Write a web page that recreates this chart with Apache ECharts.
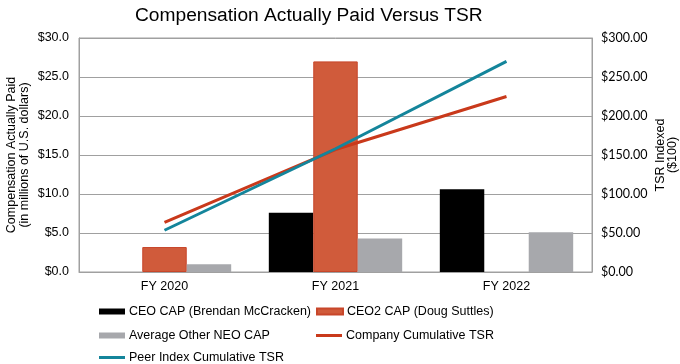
<!DOCTYPE html>
<html><head><meta charset="utf-8">
<script src="https://cdn.jsdelivr.net/npm/echarts@6/dist/echarts.min.js"></script>
<style>html,body{margin:0;padding:0;background:#fff}#c{width:680px;height:364px}</style>
</head><body><div id="c"></div>
<script>
const categories = ['FY 2020', 'FY 2021', 'FY 2022'];
const ceoCap = [null, 7.6, 10.6];
const ceo2Cap = [3.2, 27.0, null];
const neoCap = [1.0, 4.3, 5.1];
const companyTsr = [63.5, 157, 225];
const peerTsr = [53.5, 158, 270];
const leftTicks = [0, 5, 10, 15, 20, 25, 30];
const rightTicks = [0, 50, 100, 150, 200, 250, 300];

const names = ['CEO CAP (Brendan McCracken)', 'CEO2 CAP (Doug Suttles)', 'Average Other NEO CAP', 'Company Cumulative TSR', 'Peer Index Cumulative TSR'];
const colors = ['#000000', '#D05B3B', '#A7A8AC', '#C9391B', '#14859B'];
const font = 'Liberation Sans, Arial, sans-serif';

function leg(i, left, top, h) {
  return {
    data: [{name: names[i], icon: 'rect', itemStyle: {color: colors[i]}}],
    left: left, top: top, itemWidth: 26, itemHeight: h, itemGap: 0,
    padding: 0, selectedMode: false,
    textStyle: {fontFamily: font, fontSize: 12.5, color: '#000', padding: [0,0,0,-1]}
  };
}

const chart = echarts.init(document.getElementById('c'), null, {renderer: 'canvas'});
chart.setOption({
  animation: false,
  title: {text: 'Compensation Actually Paid Versus TSR', left: 130, top: 1,
    textStyle: {fontFamily: font, fontSize: 19.2, fontWeight: 'normal', color: '#000'}},
  grid: {left: 79, right: 88, top: 38, bottom: 92, show: true, borderColor: '#A0A0A0', borderWidth: 1,
    outerBoundsMode: 'none', containLabel: false},
  legend: [leg(0, 99, 305, 6), leg(1, 316, 305, 6), leg(2, 99, 329, 6), leg(3, 316, 329, 3), leg(4, 99, 351, 3)],
  xAxis: {type: 'category', data: categories,
    axisLine: {show: true, lineStyle: {color: '#A0A0A0'}}, axisTick: {show: false},
    axisLabel: {fontFamily: font, fontSize: 12.5, color: '#000', margin: 8}},
  yAxis: [{
    type: 'value', min: 0, max: 30, interval: 5,
    name: 'Compensation Actually Paid\n(in millions of U.S. dollars)', nameLocation: 'middle', nameGap: 48, nameRotate: 90,
    nameMoveOverlap: false,
    nameTextStyle: {fontFamily: font, fontSize: 12.5, color: '#000', lineHeight: 13},
    axisLine: {show: true, lineStyle: {color: '#A0A0A0'}}, axisTick: {show: false},
    splitLine: {lineStyle: {color: '#A0A0A0', width: 1}},
    axisLabel: {fontFamily: font, fontSize: 12.5, color: '#000', margin: 10,
      formatter: v => leftTicks.includes(v) ? '$' + v.toFixed(1) : ''}
  }, {
    type: 'value', min: 0, max: 300, interval: 50,
    name: 'TSR Indexed\n($100)', nameLocation: 'middle', nameGap: 63, nameRotate: 90,
    nameMoveOverlap: false,
    nameTextStyle: {fontFamily: font, fontSize: 12.5, color: '#000', lineHeight: 12},
    axisLine: {show: true, lineStyle: {color: '#A0A0A0'}}, axisTick: {show: false},
    splitLine: {show: false},
    axisLabel: {fontFamily: 'Lato, sans-serif', fontSize: 12.5, color: '#000', margin: 9,
      formatter: v => rightTicks.includes(v) ? '$' + v.toFixed(2) : ''}
  }],
  series: [
    {name: names[0], type: 'bar', data: ceoCap, barGap: '0%', barCategoryGap: '22%', itemStyle: {color: colors[0]}},
    {name: names[1], type: 'bar', data: ceo2Cap, itemStyle: {color: colors[1], borderColor: '#C8462A', borderWidth: 1}},
    {name: names[2], type: 'bar', data: neoCap, itemStyle: {color: colors[2]}},
    {name: names[3], type: 'line', yAxisIndex: 1, data: companyTsr, symbol: 'none', lineStyle: {color: colors[3], width: 3}, itemStyle: {color: colors[3]}, z: 5},
    {name: names[4], type: 'line', yAxisIndex: 1, data: peerTsr, symbol: 'none', lineStyle: {color: colors[4], width: 3}, itemStyle: {color: colors[4]}, z: 6}
  ]
});
</script></body></html>
